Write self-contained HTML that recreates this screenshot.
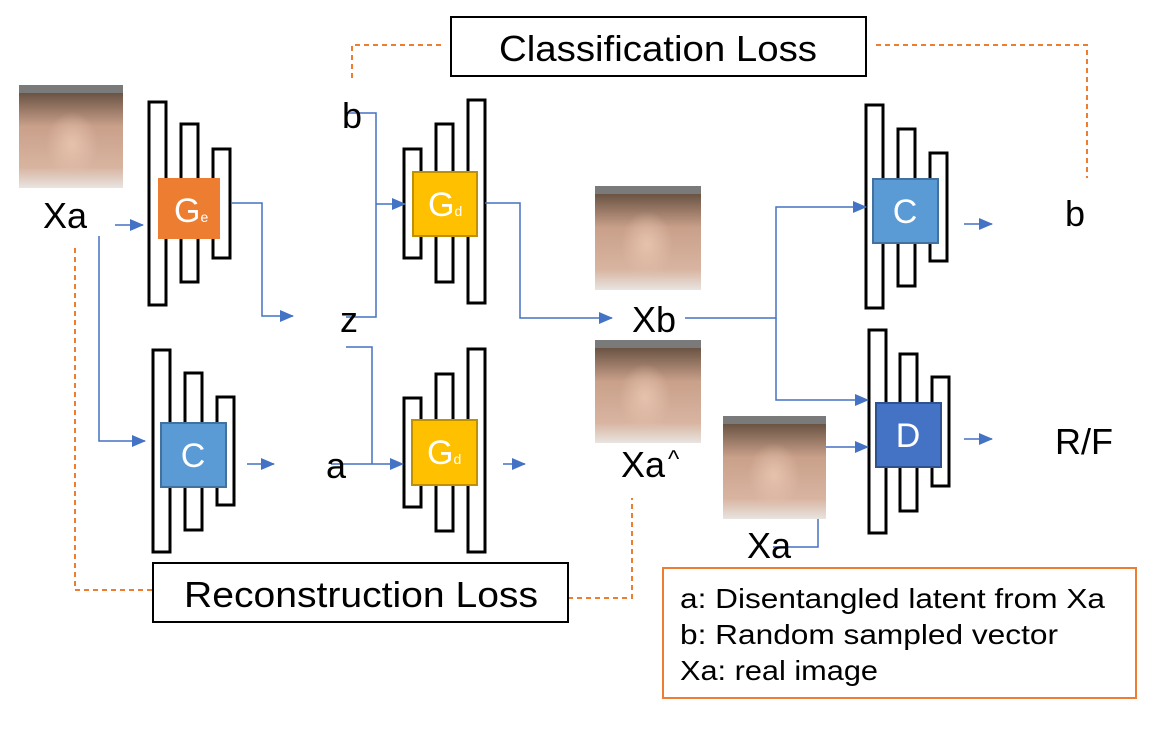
<!DOCTYPE html>
<html><head><meta charset="utf-8"><style>
html,body{margin:0;padding:0;background:#fff;}
svg{display:block;}
text{font-family:"Liberation Sans","DejaVu Sans",sans-serif;}
</style></head><body>
<svg width="1150" height="742" viewBox="0 0 1150 742" xmlns="http://www.w3.org/2000/svg">
<defs>
<marker id="ar" markerWidth="14" markerHeight="14" refX="13" refY="7" orient="auto" markerUnits="userSpaceOnUse"><path d="M0,1 L14,7 L0,13 z" fill="#4472C4"/></marker>
<linearGradient id="face" x1="0" y1="0" x2="0" y2="1"><stop offset="0" stop-color="#7a6a5c"/><stop offset="0.08" stop-color="#6b5444"/><stop offset="0.4" stop-color="#c9a08a"/><stop offset="0.8" stop-color="#d8b4a0"/><stop offset="1" stop-color="#e8e4e0"/></linearGradient>
<radialGradient id="skin" cx="0.5" cy="0.5" r="0.5"><stop offset="0" stop-color="#e6c2ad"/><stop offset="1" stop-color="#e6c2ad" stop-opacity="0"/></radialGradient>
</defs>
<g fill="none" stroke="#000" stroke-width="3">
<rect x="149" y="102" width="17" height="203" fill="#fff"/><rect x="181" y="124" width="17" height="158" fill="#fff"/><rect x="213" y="149" width="17" height="109" fill="#fff"/>
<rect x="404" y="149" width="17" height="109" fill="#fff"/><rect x="436" y="124" width="17" height="158" fill="#fff"/><rect x="468" y="100" width="17" height="203" fill="#fff"/>
<rect x="153" y="350" width="17" height="202" fill="#fff"/><rect x="185" y="373" width="17" height="157" fill="#fff"/><rect x="217" y="397" width="17" height="108" fill="#fff"/>
<rect x="404" y="398" width="17" height="109" fill="#fff"/><rect x="436" y="374" width="17" height="157" fill="#fff"/><rect x="468" y="349" width="17" height="203" fill="#fff"/>
<rect x="866" y="105" width="17" height="203" fill="#fff"/><rect x="898" y="129" width="17" height="157" fill="#fff"/><rect x="930" y="153" width="17" height="108" fill="#fff"/>
<rect x="869" y="330" width="17" height="203" fill="#fff"/><rect x="900" y="354" width="17" height="157" fill="#fff"/><rect x="932" y="377" width="17" height="109" fill="#fff"/>
</g>
<rect x="158" y="178" width="62" height="61" fill="#ED7D31"/>
<rect x="413" y="172" width="64" height="64" fill="#FFC000" stroke="#BF9000" stroke-width="2"/>
<rect x="412" y="420" width="65" height="65" fill="#FFC000" stroke="#BF9000" stroke-width="2"/>
<rect x="161" y="423" width="65" height="64" fill="#5B9BD5" stroke="#41719C" stroke-width="2"/>
<rect x="873" y="179" width="65" height="64" fill="#5B9BD5" stroke="#41719C" stroke-width="2"/>
<rect x="876" y="403" width="65" height="64" fill="#4472C4" stroke="#2F528F" stroke-width="2"/>
<g fill="#fff" font-size="34">
<text x="174" y="222">G<tspan font-size="14">e</tspan></text>
<text x="428" y="216">G<tspan font-size="14">d</tspan></text>
<text x="427" y="464">G<tspan font-size="14">d</tspan></text>
<text x="193" y="467" text-anchor="middle">C</text>
<text x="905" y="223" text-anchor="middle">C</text>
<text x="908" y="447" text-anchor="middle">D</text>
</g>
<g fill="none" stroke="#4472C4" stroke-width="1.5">
<path d="M115 225 H143" marker-end="url(#ar)"/>
<path d="M231 203 H262 V316 H293" marker-end="url(#ar)"/>
<path d="M346 113 H376 V317 H346"/>
<path d="M376 204 H405" marker-end="url(#ar)"/>
<path d="M485 203 H520 V318 H612" marker-end="url(#ar)"/>
<path d="M99 236 V441 H145" marker-end="url(#ar)"/>
<path d="M247 464 H274" marker-end="url(#ar)"/>
<path d="M331 464 H403" marker-end="url(#ar)"/>
<path d="M346 347 H372 V464"/>
<path d="M503 464 H525" marker-end="url(#ar)"/>
<path d="M685 318 H776 V207 H866" marker-end="url(#ar)"/>
<path d="M776 318 V400 H868" marker-end="url(#ar)"/>
<path d="M773 547 H818 V447 H868" marker-end="url(#ar)"/>
<path d="M964 224 H992" marker-end="url(#ar)"/>
<path d="M964 439 H992" marker-end="url(#ar)"/>
</g>
<g fill="none" stroke="#ED7D31" stroke-width="2" stroke-dasharray="5,4">
<path d="M441 45 H352 V80"/>
<path d="M876 45 H1087 V178"/>
<path d="M75 248 V590 H152"/>
<path d="M568 598 H632 V498"/>
</g>
<rect x="451" y="17" width="415" height="59" fill="#fff" stroke="#000" stroke-width="2"/>
<rect x="153" y="563" width="415" height="59" fill="#fff" stroke="#000" stroke-width="2"/>
<rect x="663" y="568" width="473" height="130" fill="#fff" stroke="#ED7D31" stroke-width="2"/>
<g fill="#000" font-size="36">
<text x="658" y="61" text-anchor="middle" textLength="318" lengthAdjust="spacingAndGlyphs">Classification Loss</text>
<text x="361" y="607" text-anchor="middle" textLength="354" lengthAdjust="spacingAndGlyphs">Reconstruction Loss</text>
<text x="65" y="228" text-anchor="middle">Xa</text>
<text x="352" y="128" text-anchor="middle">b</text>
<text x="349" y="332" text-anchor="middle">z</text>
<text x="336" y="478" text-anchor="middle">a</text>
<text x="654" y="332" text-anchor="middle">Xb</text>
<text x="643" y="477" text-anchor="middle">Xa</text>
<text x="668" y="467" font-size="24">^</text>
<text x="769" y="558" text-anchor="middle">Xa</text>
<text x="1075" y="226" text-anchor="middle">b</text>
<text x="1084" y="454" text-anchor="middle">R/F</text>
</g>
<g fill="#000" font-size="28">
<text x="680" y="608" textLength="425" lengthAdjust="spacingAndGlyphs">a: Disentangled latent from Xa</text>
<text x="680" y="644" textLength="378" lengthAdjust="spacingAndGlyphs">b: Random sampled vector</text>
<text x="680" y="680" textLength="198" lengthAdjust="spacingAndGlyphs">Xa: real image</text>
</g>
<g>
<rect x="19" y="85" width="104" height="103" fill="url(#face)"/><rect x="19" y="85" width="104" height="8" fill="#7a7a7a"/><ellipse cx="72" cy="145" rx="26" ry="33" fill="url(#skin)"/>
<rect x="595" y="186" width="106" height="104" fill="url(#face)"/><rect x="595" y="186" width="106" height="8" fill="#7a7a7a"/><ellipse cx="647" cy="245" rx="26" ry="34" fill="url(#skin)"/>
<rect x="595" y="340" width="106" height="103" fill="url(#face)"/><rect x="595" y="340" width="106" height="8" fill="#7a7a7a"/><ellipse cx="645" cy="398" rx="26" ry="34" fill="url(#skin)"/>
<rect x="723" y="416" width="103" height="103" fill="url(#face)"/><rect x="723" y="416" width="103" height="8" fill="#7a7a7a"/><ellipse cx="774" cy="476" rx="26" ry="33" fill="url(#skin)"/>
</g>
</svg>
</body></html>
